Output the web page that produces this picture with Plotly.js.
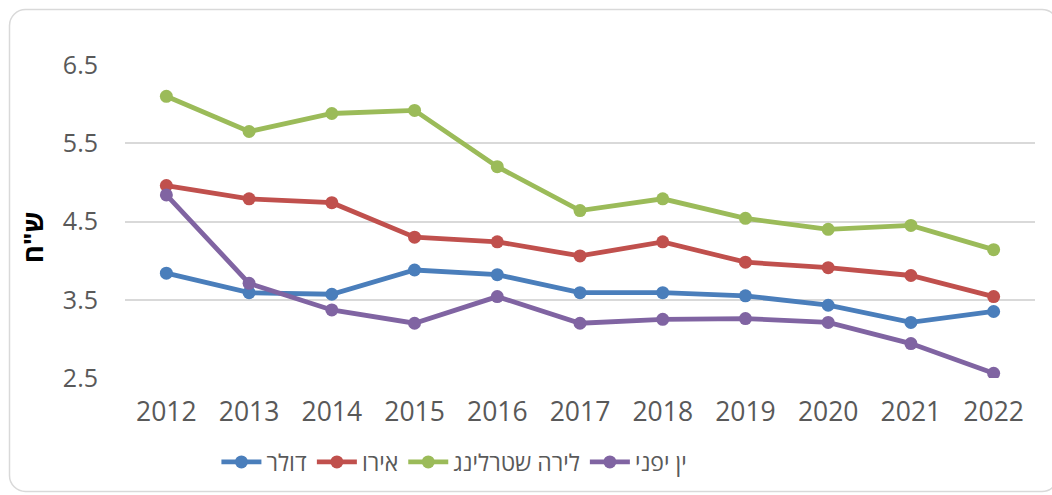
<!DOCTYPE html>
<html>
<head>
<meta charset="utf-8">
<script src="https://cdn.plot.ly/plotly-3.0.1.min.js"></script>
<style>
  html, body { margin: 0; padding: 0; background: #ffffff; overflow: hidden; }
  #chart { width: 1052px; height: 495px; }
</style>
</head>
<body>
<div id="chart"></div>
<script>
const years = ['2012','2013','2014','2015','2016','2017','2018','2019','2020','2021','2022'];
const dollar = [3.84, 3.59, 3.57, 3.88, 3.82, 3.59, 3.59, 3.55, 3.43, 3.21, 3.35];
const euro   = [4.96, 4.79, 4.74, 4.30, 4.24, 4.06, 4.24, 3.98, 3.91, 3.81, 3.54];
const pound  = [6.10, 5.65, 5.88, 5.92, 5.20, 4.64, 4.79, 4.54, 4.40, 4.45, 4.14];
const yen    = [4.84, 3.71, 3.37, 3.20, 3.54, 3.20, 3.25, 3.26, 3.21, 2.94, 2.56];
const names  = ['דולר', 'אירו', 'לירה שטרלינג', 'ין יפני'];
const colors = ['#4A7EBB', '#C0504D', '#9BBB59', '#8064A2'];
const yTicks = [2.5, 3.5, 4.5, 5.5, 6.5];
const yTitle = 'ש"ח';

const W = 1052, H = 495;
const M = { l: 125, r: 17, t: 65, b: 117 };
const PW = W - M.l - M.r, PH = H - M.t - M.b;
const px = x => (x - M.l) / PW;          // pixel -> paper x
const py = y => (H - M.b - y) / PH;      // pixel -> paper y

// rounded outer frame (decoration), right side runs just past the picture edge
function framePath(x0, y0, x1, y1, r) {
  const k = 0.45 * r;
  return [
    `M ${px(x0 + r)},${py(y0)}`,
    `L ${px(x1 - r)},${py(y0)}`,
    `C ${px(x1 - k)},${py(y0)} ${px(x1)},${py(y0 + k)} ${px(x1)},${py(y0 + r)}`,
    `L ${px(x1)},${py(y1 - r)}`,
    `C ${px(x1)},${py(y1 - k)} ${px(x1 - k)},${py(y1)} ${px(x1 - r)},${py(y1)}`,
    `L ${px(x0 + r)},${py(y1)}`,
    `C ${px(x0 + k)},${py(y1)} ${px(x0)},${py(y1 - k)} ${px(x0)},${py(y1 - r)}`,
    `L ${px(x0)},${py(y0 + r)}`,
    `C ${px(x0)},${py(y0 + k)} ${px(x0 + k)},${py(y0)} ${px(x0 + r)},${py(y0)}`,
    'Z'
  ].join(' ');
}

const series = [dollar, euro, pound, yen];
const traces = series.map((vals, i) => ({
  type: 'scatter',
  mode: 'lines+markers',
  x: years,
  y: vals,
  name: names[i],
  line: { color: colors[i], width: 4.8 },
  marker: { color: colors[i], size: 13 },
  hoverinfo: 'x+y+name'
}));

const font = "'Open Sans', 'Liberation Sans', sans-serif";

const layout = {
  width: W,
  height: H,
  paper_bgcolor: '#ffffff',
  plot_bgcolor: 'rgba(0,0,0,0)',
  margin: M,
  font: { family: font, color: '#595959', size: 23 },
  showlegend: true,
  legend: {
    orientation: 'h',
    x: 0.362, xanchor: 'center',
    y: py(462), yanchor: 'middle',
    font: { family: font, size: 23, color: '#595959' },
    itemwidth: 40,
    tracegroupgap: 0,
    bgcolor: 'rgba(0,0,0,0)'
  },
  xaxis: {
    type: 'category',
    range: [-0.5, 10.5],
    automargin: false,
    showgrid: false,
    zeroline: false,
    showline: false,
    ticks: '',
    ticklabelstandoff: 15,
    tickfont: { family: font, size: 26.5, color: '#595959' }
  },
  yaxis: {
    range: [2.5, 6.5],
    automargin: false,
    tickvals: yTicks,
    ticktext: yTicks.map(v => v.toFixed(1)),
    showgrid: true,
    gridcolor: '#d9d9d9',
    gridwidth: 1.5,
    zeroline: false,
    showline: false,
    ticks: '',
    ticklabelstandoff: 26,
    tickfont: { family: font, size: 25, color: '#595959' }
  },
  annotations: [{
    text: '<b>' + yTitle + '</b>',
    xref: 'paper', yref: 'paper',
    x: px(32), y: py(237),
    xanchor: 'center', yanchor: 'middle',
    textangle: -90,
    showarrow: false,
    font: { family: font, size: 27, color: '#000000' }
  }],
  shapes: [{
    type: 'path',
    xref: 'paper', yref: 'paper',
    path: framePath(9.5, 9.5, 1058, 491.5, 16),
    line: { color: '#d9d9d9', width: 1.5 },
    fillcolor: 'rgba(0,0,0,0)',
    layer: 'below'
  }]
};

Plotly.newPlot('chart', traces, layout, { displayModeBar: false, responsive: false });
</script>
</body>
</html>
